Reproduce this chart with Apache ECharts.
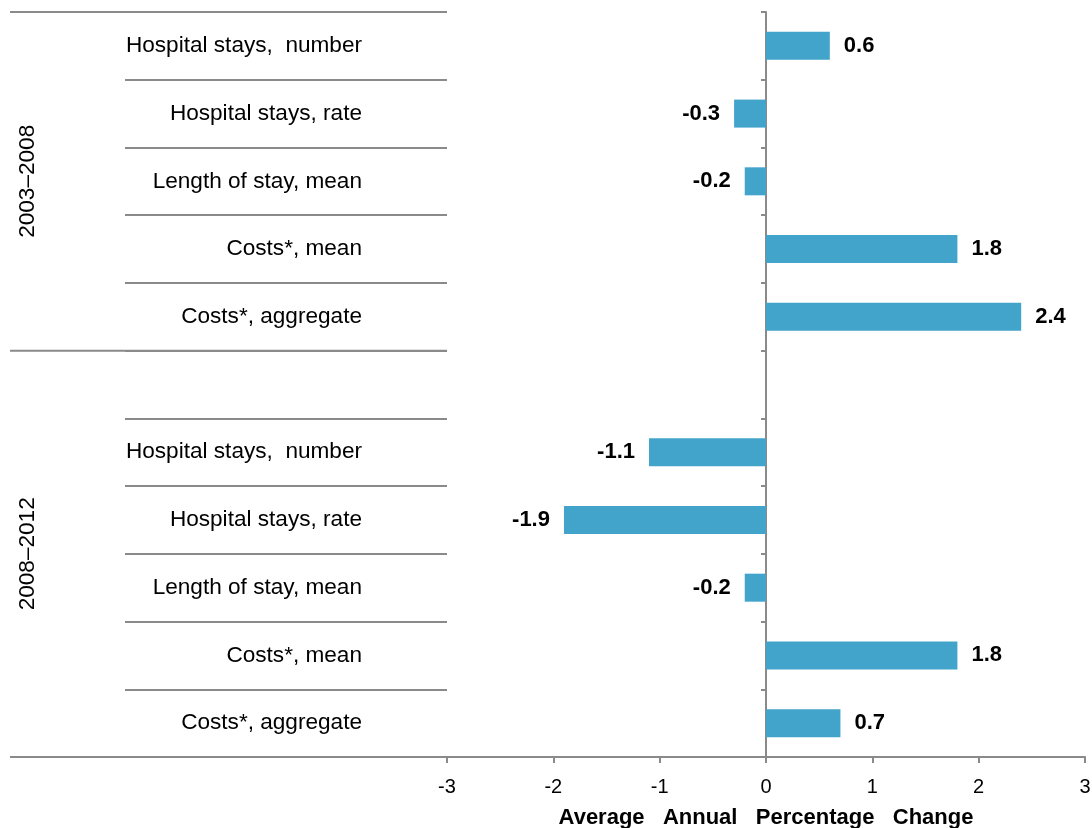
<!DOCTYPE html>
<html>
<head>
<meta charset="utf-8">
<script src="https://cdn.jsdelivr.net/npm/echarts@6/dist/echarts.min.js"></script>
<style>
  html, body { margin: 0; padding: 0; background: #fff; }
  #chart { width: 1092px; height: 828px; }
</style>
</head>
<body>
<div id="chart"></div>
<script>
// Average annual percentage change by measure and period
const groups = ['2003–2008', '2008–2012'];
const measures = [
  'Hospital stays,  number',
  'Hospital stays, rate',
  'Length of stay, mean',
  'Costs*, mean',
  'Costs*, aggregate'
];
const change2003to2008 = [0.6, -0.3, -0.2, 1.8, 2.4];
const change2008to2012 = [-1.1, -1.9, -0.2, 1.8, 0.7];
const xTicks = [-3, -2, -1, 0, 1, 2, 3];
const axisTitle = 'Average   Annual   Percentage   Change';

// Row layout: first period block, a spacer row, second period block
const rowLabels = [...measures, '', ...measures];
const rowValues = [...change2003to2008, null, ...change2008to2012];
const rowIds = rowLabels.map((_, i) => 'row' + i);
// Each period spans these rows (the spacer belongs to the second block)
const groupSpans = [[0, measures.length], [measures.length, rowLabels.length]];

const FONT = '"Liberation Sans", Arial, Helvetica, sans-serif';
const RULE = '#8a8a8a';
const BAR = '#42a3cb';
const TOP = 12, BOTTOM = 71;

const chart = echarts.init(document.getElementById('chart'), null, { renderer: 'canvas' });

const option = {
  animation: false,
  backgroundColor: '#ffffff',
  textStyle: { fontFamily: FONT },
  grid: [
    { left: 447, right: 7, top: TOP, bottom: BOTTOM, outerBoundsMode: 'none', containLabel: false },   // bars
    { left: 125, right: 645, top: TOP, bottom: BOTTOM, outerBoundsMode: 'none', containLabel: false }, // measure names
    { left: 10, right: 645, top: TOP, bottom: BOTTOM, outerBoundsMode: 'none', containLabel: false }   // period bands
  ],
  xAxis: [
    {
      gridIndex: 0,
      type: 'value',
      min: xTicks[0],
      max: xTicks[xTicks.length - 1],
      interval: 1,
      axisLine: { show: true, onZero: false, lineStyle: { color: RULE, width: 2 } },
      axisTick: { show: true, length: 6, lineStyle: { color: RULE, width: 2 } },
      axisLabel: { fontSize: 20, color: '#000', margin: 20, fontFamily: FONT },
      splitLine: { show: false },
      name: axisTitle,
      nameLocation: 'middle',
      nameGap: 50,
      nameTextStyle: { fontSize: 22, fontWeight: 'bold', color: '#000', fontFamily: FONT }
    },
    { gridIndex: 1, type: 'value', min: 0, max: 1, show: false },
    { gridIndex: 2, type: 'value', min: 0, max: 1, show: false }
  ],
  yAxis: [
    {
      gridIndex: 0,
      type: 'category',
      data: rowIds,
      inverse: true,
      axisLine: { show: true, onZero: true, lineStyle: { color: RULE, width: 2 } },
      axisTick: { show: true, length: 5, interval: 0, lineStyle: { color: RULE, width: 2 } },
      axisLabel: { show: false },
      splitLine: { show: false }
    },
    {
      gridIndex: 1,
      type: 'category',
      data: rowIds,
      inverse: true,
      position: 'right',
      axisLine: { show: false },
      axisTick: { show: false },
      splitLine: { show: true, interval: 0, lineStyle: { color: RULE, width: 2 } },
      axisLabel: {
        interval: 0,
        inside: true,
        margin: 85,
        fontSize: 22.6,
        color: '#000',
        fontFamily: FONT,
        formatter: (v) => rowLabels[rowIds.indexOf(v)]
      }
    },
    {
      gridIndex: 2,
      type: 'value',
      inverse: true,
      min: 0,
      max: rowLabels.length,
      show: false
    }
  ],
  series: [
    {
      type: 'bar',
      xAxisIndex: 0,
      yAxisIndex: 0,
      barWidth: 28,
      itemStyle: { color: BAR },
      label: {
        show: true,
        distance: 14,
        fontSize: 22,
        fontWeight: 'bold',
        color: '#000',
        fontFamily: FONT,
        formatter: (p) => Number(p.value).toFixed(1)
      },
      data: rowValues.map((v) => v == null ? null : {
        value: v,
        label: { position: v < 0 ? 'left' : 'right' }
      })
    },
    {
      type: 'custom',
      coordinateSystem: 'cartesian2d',
      xAxisIndex: 2,
      yAxisIndex: 2,
      silent: true,
      clip: false,
      data: groupSpans.map((s, i) => [0, s[0], s[1], i]),
      encode: { x: 0, y: [1, 2] },
      renderItem: (params, api) => {
        const start = api.value(1);
        const end = api.value(2);
        const idx = api.value(3);
        const tl = api.coord([0, start]);
        const tr = api.coord([1, start]);
        const bl = api.coord([0, end]);
        const br = api.coord([1, end]);
        const lineStyle = { stroke: RULE, lineWidth: 2 };
        const children = [
          { type: 'line', shape: { x1: tl[0], y1: tl[1], x2: tr[0], y2: tr[1] }, style: lineStyle },
          {
            type: 'text',
            x: tl[0] + 18,
            y: (tl[1] + bl[1]) / 2,
            rotation: Math.PI / 2,
            style: {
              text: groups[idx],
              fill: '#000',
              fontSize: 22.6,
              fontFamily: FONT,
              align: 'center',
              verticalAlign: 'middle',
              textAlign: 'center',
              textVerticalAlign: 'middle'
            }
          }
        ];
        if (idx === groupSpans.length - 1) {
          children.push({ type: 'line', shape: { x1: bl[0], y1: bl[1], x2: br[0], y2: br[1] }, style: lineStyle });
        }
        return { type: 'group', children };
      }
    }
  ]
};

chart.setOption(option);
</script>
</body>
</html>
